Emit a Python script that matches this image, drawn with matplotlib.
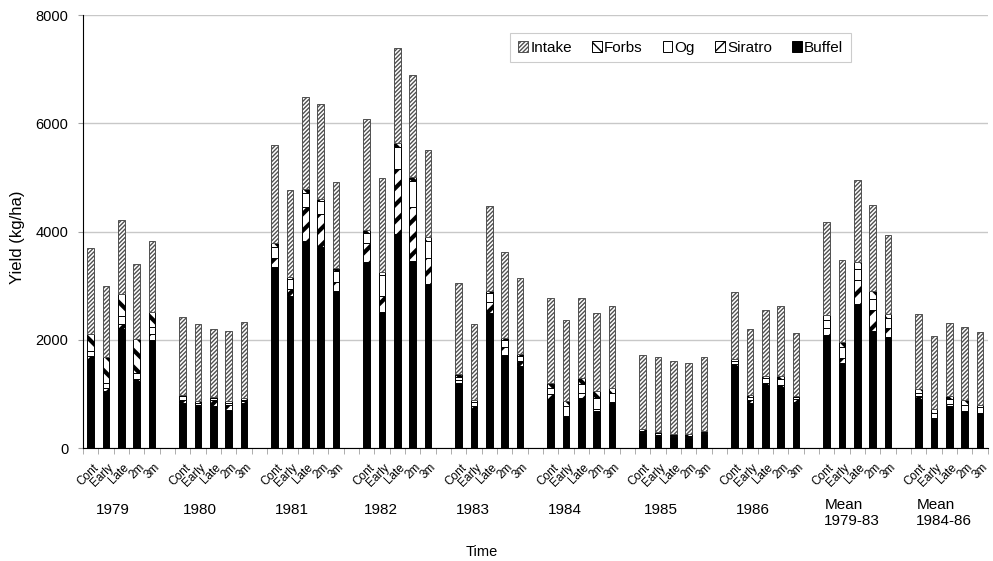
import numpy as np
import matplotlib.pyplot as plt

plt.rcParams['font.family'] = ['Liberation Sans', 'DejaVu Sans']

groups = ['1979', '1980', '1981', '1982', '1983', '1984', '1985', '1986',
          'Mean\n1979-83', 'Mean\n1984-86']
treatments = ['Cont', 'Early', 'Late', '2m', '3m']

# kg/ha, one row per group: Cont, Early, Late, 2m, 3m
buffel = [[1640, 1060, 2200, 1240, 2000],
          [840, 780, 780, 700, 830],
          [3340, 2810, 3830, 3720, 2900],
          [3430, 2520, 3950, 3460, 3030],
          [1200, 730, 2500, 1720, 1520],
          [905, 575, 930, 690, 825],
          [270, 220, 200, 180, 250],
          [1520, 830, 1165, 1135, 856],
          [2090, 1575, 2660, 2165, 2055],
          [905, 540, 775, 680, 640]]
siratro = [[60, 40, 100, 40, 110],
           [40, 20, 100, 90, 30],
           [180, 130, 630, 600, 170],
           [350, 290, 1210, 990, 490],
           [60, 40, 200, 140, 80],
           [85, 15, 80, 40, 30],
           [30, 20, 20, 20, 20],
           [30, 60, 30, 30, 45],
           [120, 80, 440, 385, 165],
           [55, 10, 40, 10, 15]]
og = [[90, 110, 140, 110, 120],
      [90, 40, 50, 40, 30],
      [190, 190, 250, 240, 200],
      [190, 390, 410, 490, 310],
      [60, 80, 160, 130, 100],
      [110, 190, 170, 200, 155],
      [20, 30, 20, 30, 20],
      [60, 60, 105, 110, 35],
      [155, 215, 200, 200, 175],
      [60, 90, 85, 105, 95]]
forbs = [[310, 470, 400, 620, 280],
         [10, 20, 20, 30, 30],
         [70, 30, 70, 40, 50],
         [60, 60, 70, 70, 70],
         [40, 40, 40, 40, 30],
         [110, 90, 110, 120, 90],
         [25, 25, 20, 30, 20],
         [30, 30, 35, 60, 25],
         [90, 95, 130, 150, 75],
         [65, 75, 60, 95, 45]]
intake = [[1600, 1320, 1370, 1390, 1310],
          [1440, 1440, 1240, 1310, 1400],
          [1810, 1610, 1710, 1750, 1590],
          [2040, 1730, 1760, 1880, 1600],
          [1690, 1410, 1580, 1600, 1420],
          [1570, 1500, 1480, 1450, 1530],
          [1380, 1380, 1350, 1320, 1380],
          [1250, 1210, 1215, 1280, 1165],
          [1715, 1515, 1520, 1590, 1470],
          [1385, 1360, 1345, 1340, 1355]]

# where the group labels sit (in category units)
label_x = [1.46, 7.14, 13.1, 18.9, 24.9, 30.9, 37.2, 43.2, 47.85, 53.85]

pos = np.array([6 * g + t for g in range(len(groups)) for t in range(len(treatments))])

# name, values, face, hatch, hatch line width, edge/hatch colour
series = [
    ('Buffel', buffel, 'black', '', 1.0, 'black'),
    ('Siratro', siratro, 'white', '//', 3.0, 'black'),
    ('Og', og, 'white', '', 1.0, 'black'),
    ('Forbs', forbs, 'white', '\\\\', 3.0, 'black'),
    ('Intake', intake, 'white', '////////', 1.0, '#505050'),
]

fig = plt.figure(figsize=(9.93, 5.61), dpi=100)
ax = fig.add_axes([0.0836, 0.2014, 0.911, 0.7718])

bottom = np.zeros(len(pos))
handles = {}
for name, vals, fc, hatch, hlw, ec in series:
    v = np.array(vals).ravel()
    plt.rcParams['hatch.linewidth'] = hlw
    bars = ax.bar(pos, v, 0.45, bottom=bottom, color=fc, hatch=hatch,
                  edgecolor=ec, linewidth=0.7, zorder=3)
    for b in bars:
        if hasattr(b, 'set_hatch_linewidth'):
            b.set_hatch_linewidth(hlw)
    handles[name] = bars
    bottom += v

ax.set_xlim(-0.5, 58.5)
ax.set_ylim(0, 8000)
ax.set_yticks([0, 2000, 4000, 6000, 8000])
ax.tick_params(axis='y', labelsize=10.5, length=3.6, pad=7, color='#a0a0a0',
               direction='out')
ax.yaxis.grid(True, color='#c8c8c8', linewidth=1.0, zorder=0)
ax.set_axisbelow(True)
for s in ['top', 'right']:
    ax.spines[s].set_visible(False)
ax.spines['left'].set_linewidth(0.8)
ax.spines['bottom'].set_linewidth(0.8)

ax.set_xticks(pos)
ax.set_xticklabels([])
ax.tick_params(axis='x', which='major', length=0)
ax.set_xticks(np.arange(-0.5, 59, 1.0), minor=True)
ax.tick_params(axis='x', which='minor', length=4, color='#a0a0a0')

for p, lab in zip(pos, treatments * len(groups)):
    ax.text(p + 0.1, -250, lab, rotation=45, ha='right', va='top',
            rotation_mode='anchor', fontsize=8.5)

for i, g in enumerate(groups):
    if g.startswith('Mean'):
        ax.text(label_x[i], -1200, g, ha='left', va='center', fontsize=11,
                linespacing=1.25)
    else:
        ax.text(label_x[i], -1150, g, ha='center', va='center', fontsize=11)

ax.set_ylabel('Yield (kg/ha)', fontsize=12)
ax.yaxis.set_label_coords(-0.064, 0.486)
fig.text(0.485, 0.003, 'Time', ha='center', va='bottom', fontsize=10.5)

order = ['Intake', 'Forbs', 'Og', 'Siratro', 'Buffel']
leg = ax.legend([handles[n] for n in order], order, loc='upper left',
                bbox_to_anchor=(0.4725, 0.958), ncol=5, fontsize=11,
                frameon=True, fancybox=False, edgecolor='#c0c0c0',
                handlelength=0.65, handleheight=0.65, handletextpad=0.15,
                columnspacing=1.3, borderpad=0.5, borderaxespad=0)
leg.get_frame().set_linewidth(0.8)

fig.savefig('out.png', dpi=100)
